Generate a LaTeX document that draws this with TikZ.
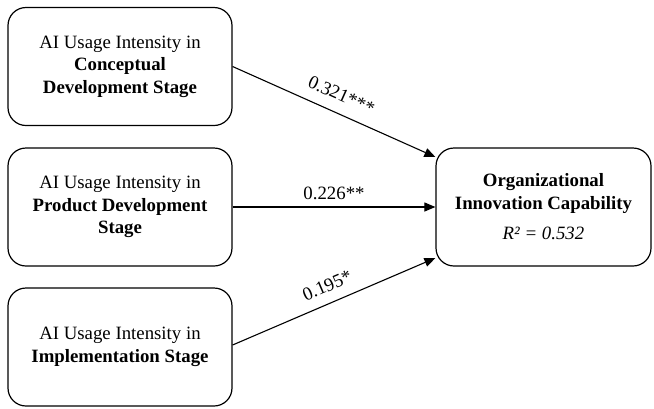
\documentclass[tikz,border=0pt]{standalone}
\usepackage{fontspec}
\setmainfont{Liberation Serif}
\usetikzlibrary{arrows.meta}
\tikzset{
  varbox/.style={draw=black, line width=1.2pt, rounded corners=18pt, align=center,
    minimum width=224pt, minimum height=118pt, inner sep=0pt,
    font=\fontsize{18.8pt}{22.5pt}\selectfont},
  outbox/.style={varbox, minimum width=215pt},
  path/.style={line width=1.1pt, -{Triangle[length=11pt,width=9pt]}},
  coef/.style={font=\fontsize{18.8pt}{22pt}\selectfont, sloped}
}
\begin{document}
\begin{tikzpicture}[x=1pt,y=-1pt]
\useasboundingbox (0,0) rectangle (654,408);
\node[varbox] (c) at (120,66.5) {AI Usage Intensity in\\\textbf{Conceptual}\\\textbf{Development Stage}};
\node[varbox] (p) at (120,207) {AI Usage Intensity in\\\textbf{Product Development}\\\textbf{Stage}};
\node[varbox] (i) at (120,347) {AI Usage Intensity in\\\textbf{Implementation Stage}};
\node[outbox] (o) at (543.5,207) {\textbf{Organizational}\\\textbf{Innovation Capability}\\[8pt]\textit{R² = 0.532}};
\draw[path] (c.east) -- node[coef, above, yshift=8pt] (l1) {0.321***} ([yshift=50pt]o.west);
\draw[path] (p.east) -- node[coef, above, yshift=3pt] (l2) {0.226**} (o.west);
\draw[path] ([yshift=2pt]i.east) -- node[coef, above, pos=0.5, yshift=7pt] (l3) {0.195*} ([yshift=-51pt]o.west);
\end{tikzpicture}
\end{document}
